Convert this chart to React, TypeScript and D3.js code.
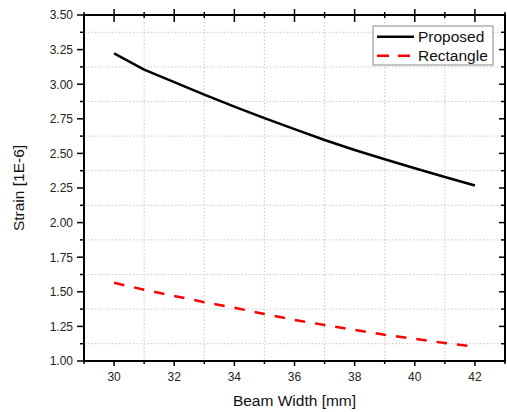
import React from "react";
import * as d3 from "d3";

const widths = [30, 31, 32, 33, 34, 35, 36, 37, 38, 39, 40, 41, 42];
const proposed = [3.222, 3.105, 3.015, 2.925, 2.838, 2.755, 2.675, 2.597, 2.525, 2.458, 2.393, 2.33, 2.268];
const rectangle = [1.565, 1.515, 1.47, 1.425, 1.385, 1.34, 1.297, 1.26, 1.225, 1.19, 1.16, 1.13, 1.103];
const xMajorTicks = [30, 32, 34, 36, 38, 40, 42];
const xMinorTicks = [29, 31, 33, 35, 37, 39, 41, 43];
const yMajorTicks = [1.0, 1.25, 1.5, 1.75, 2.0, 2.25, 2.5, 2.75, 3.0, 3.25, 3.5];
const yMinorTicks = [1.125, 1.375, 1.625, 1.875, 2.125, 2.375, 2.625, 2.875, 3.125, 3.375];
const seriesNames = ["Proposed", "Rectangle"];
const xTitle = "Beam Width [mm]";
const yTitle = "Strain [1E-6]";

const W = 507;
const H = 412;
const L = 84, R = 505, T = 15, B = 361;
const FONT = "'Liberation Sans', Arial, sans-serif";

export default function App() {
  const x = d3.scaleLinear().domain([29, 43]).range([L, R]);
  const y = d3.scaleLinear().domain([1.0, 3.5]).range([B, T]);
  const line = d3
    .line<[number, number]>()
    .x((d) => x(d[0]))
    .y((d) => y(d[1]));
  const pData = widths.map((w, i) => [w, proposed[i]] as [number, number]);
  const rData = widths.map((w, i) => [w, rectangle[i]] as [number, number]);

  return (
    <svg
      width={W}
      height={H}
      style={{ position: "absolute", left: 0, top: 0, background: "#fff" }}
      fontFamily={FONT}
    >
      <rect x={0} y={0} width={W} height={H} fill="#fff" />
      {/* grid */}
      <g stroke="#c8c8c8" strokeWidth={1} strokeDasharray="1.5,2">
        {xMinorTicks
          .filter((t) => t > 29 && t < 43)
          .map((t) => (
            <line key={"gx" + t} x1={x(t)} x2={x(t)} y1={T} y2={B} />
          ))}
        {yMinorTicks.map((t) => (
          <line key={"gy" + t} x1={L} x2={R} y1={y(t)} y2={y(t)} />
        ))}
      </g>
      {/* data */}
      <path d={line(pData) || ""} fill="none" stroke="#000" strokeWidth={2.5} strokeLinejoin="round" />
      <path
        d={line(rData) || ""}
        fill="none"
        stroke="#ff0000"
        strokeWidth={2.5}
        strokeDasharray="10.5,10"
      />
      {/* axes ticks */}
      <g stroke="#000" strokeWidth={1.5}>
        {yMajorTicks.map((t) => (
          <g key={"ym" + t}>
            <line x1={L - 7} x2={L} y1={y(t)} y2={y(t)} />
            <line x1={R - 6} x2={R} y1={y(t)} y2={y(t)} />
          </g>
        ))}
        {yMinorTicks.map((t) => (
          <g key={"yn" + t}>
            <line x1={L - 4} x2={L} y1={y(t)} y2={y(t)} />
            <line x1={R - 4} x2={R} y1={y(t)} y2={y(t)} />
          </g>
        ))}
        {xMajorTicks.map((t) => (
          <g key={"xm" + t}>
            <line x1={x(t)} x2={x(t)} y1={B} y2={B + 5} />
            <line x1={x(t)} x2={x(t)} y1={T - 6} y2={T + 7} />
          </g>
        ))}
        {xMinorTicks.map((t) => (
          <g key={"xn" + t}>
            <line x1={x(t)} x2={x(t)} y1={B} y2={B + 3} />
            <line x1={x(t)} x2={x(t)} y1={T - 3} y2={T + 3} />
          </g>
        ))}
      </g>
      <rect x={L} y={T} width={R - L} height={B - T} fill="none" stroke="#000" strokeWidth={2} />
      {/* tick labels */}
      <g fontSize={12} fill="#222">
        {yMajorTicks.map((t) => (
          <text key={"yl" + t} x={73} y={y(t) + 4.3} textAnchor="end">
            {t.toFixed(2)}
          </text>
        ))}
        {xMajorTicks.map((t) => (
          <text key={"xl" + t} x={x(t)} y={381} textAnchor="middle">
            {t}
          </text>
        ))}
      </g>
      {/* titles */}
      <text x={(L + R) / 2} y={405.5} textAnchor="middle" fontSize={15.5} fill="#111">
        {xTitle}
      </text>
      <text
        transform={`translate(24,${(T + B) / 2}) rotate(-90)`}
        textAnchor="middle"
        fontSize={15.5}
        fill="#111"
      >
        {yTitle}
      </text>
      {/* legend */}
      <g>
        <rect x={373} y={26} width={120} height={39} fill="#fff" stroke="#888" strokeWidth={1} />
        <line x1={377} x2={414} y1={36.7} y2={36.7} stroke="#000" strokeWidth={2.5} />
        <line x1={377} x2={412} y1={55.7} y2={55.7} stroke="#ff0000" strokeWidth={2.5} strokeDasharray="12,9" />
        <text x={418} y={41.7} fontSize={15.5} fill="#111">
          {seriesNames[0]}
        </text>
        <text x={418} y={61.2} fontSize={15.5} fill="#111">
          {seriesNames[1]}
        </text>
      </g>
    </svg>
  );
}
